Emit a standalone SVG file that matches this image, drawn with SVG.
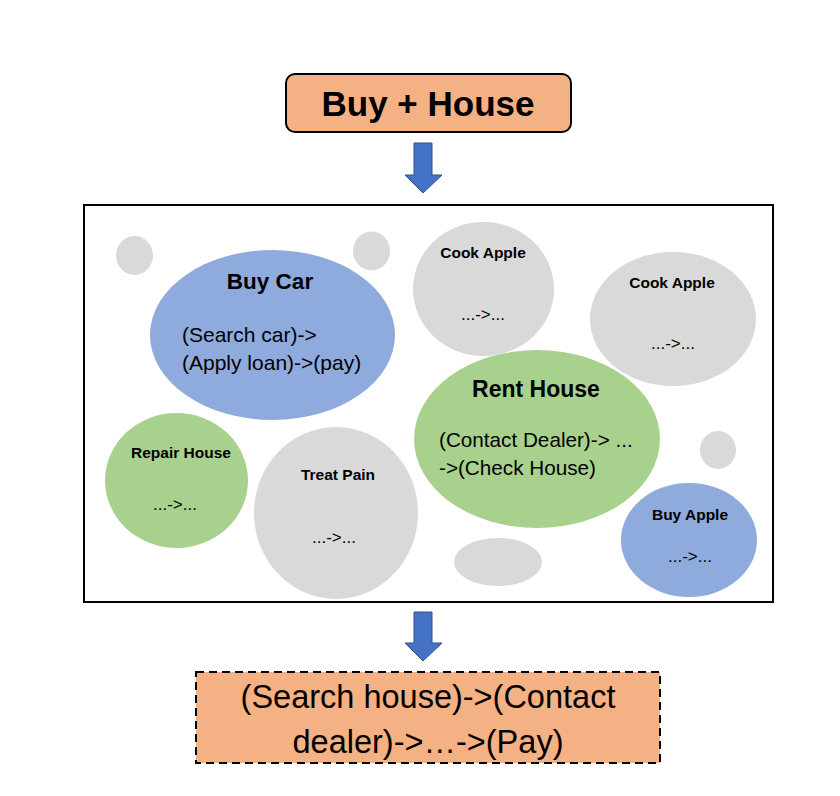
<svg xmlns="http://www.w3.org/2000/svg" width="840" height="796" viewBox="0 0 840 796">
<style>
  text { font-family: "Liberation Sans", Arial, sans-serif; fill: #000; }
  .b { font-weight: bold; }
  .gray { fill: #D9D9D9; }
  .blue { fill: #8FAADC; }
  .green { fill: #A9D18E; }
  .arrow { fill: #4472C4; stroke: #2F528F; stroke-width: 1; }
  .c { text-anchor: middle; }
  .lbl { font-size: 15.5px; font-weight: bold; }
  .seq { font-size: 17px; }
</style>
<rect width="840" height="796" fill="#ffffff"/>

<g id="query">
  <rect x="286" y="74" width="285" height="58" rx="9" fill="#F4B183" stroke="#000" stroke-width="2"/>
  <text class="b c" x="428" y="116" font-size="35">Buy + House</text>
</g>

<g id="connectors">
  <path class="arrow" d="M414,143 H432 V175 H442 L423,193 L405,175 H414 Z"/>
  <path class="arrow" d="M414,612 H432 V643 H442 L423,661 L405,643 H414 Z"/>
</g>

<g id="pool">
  <rect x="84" y="205" width="689" height="397" fill="#ffffff" stroke="#000" stroke-width="2"/>
</g>

<g id="blob1"><ellipse class="gray" cx="134.5" cy="255.5" rx="18.5" ry="19.5"/></g>
<g id="blob2"><ellipse class="gray" cx="371.5" cy="251" rx="18.5" ry="19.5"/></g>
<g id="blob3"><ellipse class="gray" cx="718" cy="450" rx="18" ry="19"/></g>
<g id="blob4"><ellipse class="gray" cx="498" cy="562" rx="44" ry="24"/></g>

<g id="buy-car">
  <ellipse class="blue" cx="272.5" cy="335" rx="122.5" ry="85"/>
  <text class="b c" x="270" y="289" font-size="22.5">Buy Car</text>
  <text x="182" y="342" font-size="21">(Search car)-&gt;</text>
  <text x="182" y="370" font-size="21">(Apply loan)-&gt;(pay)</text>
</g>

<g id="cook-apple-1">
  <ellipse class="gray" cx="483.5" cy="289" rx="70.5" ry="67"/>
  <text class="lbl c" x="483" y="258">Cook Apple</text>
  <text class="seq c" x="483" y="320">...-&gt;...</text>
</g>

<g id="cook-apple-2">
  <ellipse class="gray" cx="673" cy="319" rx="83" ry="67"/>
  <text class="lbl c" x="672" y="288">Cook Apple</text>
  <text class="seq c" x="673" y="349">...-&gt;...</text>
</g>

<g id="rent-house">
  <ellipse class="green" cx="537" cy="439" rx="123" ry="89"/>
  <text class="b c" x="536" y="397" font-size="23">Rent House</text>
  <text x="439" y="447" font-size="20.7">(Contact Dealer)-&gt; ...</text>
  <text x="439" y="475" font-size="20.7">-&gt;(Check House)</text>
</g>

<g id="repair-house">
  <ellipse class="green" cx="176.5" cy="480.5" rx="71.5" ry="67.5"/>
  <text class="lbl c" x="181" y="458">Repair House</text>
  <text class="seq c" x="175" y="510">...-&gt;...</text>
</g>

<g id="treat-pain">
  <ellipse class="gray" cx="336" cy="513" rx="82" ry="86"/>
  <text class="lbl c" x="338" y="480">Treat Pain</text>
  <text class="seq c" x="334" y="543">...-&gt;...</text>
</g>

<g id="buy-apple">
  <ellipse class="blue" cx="689" cy="540" rx="68" ry="57"/>
  <text class="lbl c" x="690" y="520">Buy Apple</text>
  <text class="seq c" x="690" y="562">...-&gt;...</text>
</g>

<g id="result">
  <rect x="196" y="672" width="464" height="91" fill="#F4B183" stroke="#000" stroke-width="2" stroke-dasharray="8,5"/>
  <text class="c" x="428" y="708" font-size="32.5">(Search house)-&gt;(Contact</text>
  <text class="c" x="428" y="753" font-size="32.5">dealer)-&gt;…-&gt;(Pay)</text>
</g>
</svg>
